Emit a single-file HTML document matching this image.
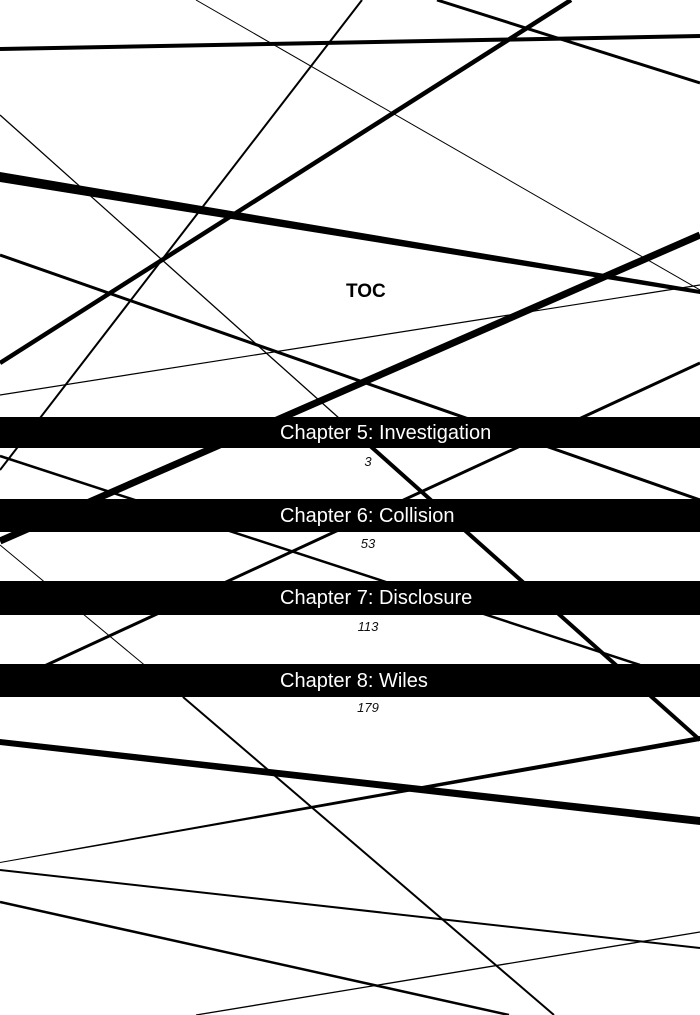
<!DOCTYPE html>
<html><head><meta charset="utf-8"><style>
html,body{margin:0;padding:0;background:#fff}
#w{position:relative;width:700px;height:1015px;overflow:hidden;background:#fff;font-family:"Liberation Sans",sans-serif}
svg{position:absolute;left:0;top:0}
.band{position:absolute;left:0;width:700px;background:#000}
.t{position:absolute;left:280px;color:#fff;font-size:20px;white-space:nowrap;line-height:1}
.n{position:absolute;width:60px;left:338px;text-align:center;font-style:italic;font-size:13px;color:#111;line-height:1}
</style></head><body><div id="w">
<svg width="700" height="1015" viewBox="0 0 700 1015">
<g stroke="#000" stroke-linecap="butt" fill="none">
<line x1="0" y1="49" x2="700" y2="36" stroke-width="4"/>
<line x1="196" y1="0" x2="700" y2="290" stroke-width="1"/>
<line x1="362" y1="0" x2="0" y2="470" stroke-width="2"/>
<line x1="437" y1="0" x2="700" y2="83" stroke-width="3"/>
<line x1="571" y1="0" x2="0" y2="363" stroke-width="4.5"/>
<polygon points="0,172 0,182 700,294 700,290" fill="#000" stroke="none"/>
<line x1="0" y1="115" x2="368" y2="444" stroke-width="1.3"/>
<line x1="368" y1="444" x2="700" y2="740" stroke-width="4"/>
<line x1="0" y1="255" x2="700" y2="500" stroke-width="3"/>
<line x1="0" y1="395" x2="700" y2="285" stroke-width="1.2"/>
<line x1="0" y1="541" x2="700" y2="235" stroke-width="7"/>
<line x1="700" y1="363" x2="40" y2="668" stroke-width="3"/>
<line x1="0" y1="456" x2="640" y2="665" stroke-width="2.5"/>
<line x1="0" y1="545" x2="183" y2="697" stroke-width="1"/>
<line x1="183" y1="697" x2="554" y2="1015" stroke-width="2"/>
<polygon points="0,739 0,745 700,825 700,817" fill="#000" stroke="none"/>
<polygon points="0,862 0,863 700,741 700,736" fill="#000" stroke="none"/>
<line x1="0" y1="870" x2="700" y2="948" stroke-width="2"/>
<line x1="0" y1="902" x2="509" y2="1015" stroke-width="2.5"/>
<line x1="196" y1="1015" x2="700" y2="932" stroke-width="1.3"/>
</g></svg>
<div style="position:absolute;left:346px;top:281px;font-weight:bold;font-size:19px">TOC</div>
<div class="band" style="top:417px;height:31px"></div>
<div class="band" style="top:499px;height:33px"></div>
<div class="band" style="top:581px;height:34px"></div>
<div class="band" style="top:664px;height:33px"></div>
<div class="t" style="top:423px">Chapter 5: Investigation</div>
<div class="t" style="top:506px">Chapter 6: Collision</div>
<div class="t" style="top:588px">Chapter 7: Disclosure</div>
<div class="t" style="top:671px">Chapter 8: Wiles</div>
<div class="n" style="top:455px">3</div>
<div class="n" style="top:537px">53</div>
<div class="n" style="top:620px">113</div>
<div class="n" style="top:701px">179</div>
</div></body></html>
